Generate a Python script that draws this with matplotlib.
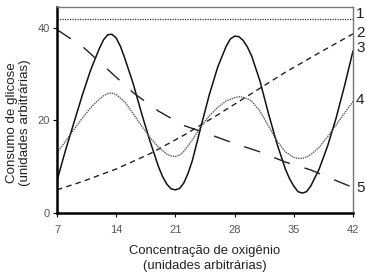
import matplotlib
matplotlib.use('Agg')
import matplotlib.pyplot as plt

plt.rcParams['font.family'] = ['Liberation Sans', 'DejaVu Sans']

# curve 3 (solid), denser near peaks and troughs
x3 = [7, 8, 9, 10, 11, 12, 12.5, 13, 13.5, 14, 14.5, 15, 16, 17, 18, 19, 19.5, 20,
      20.5, 21, 21.5, 22, 22.5, 23, 24, 25, 26, 27, 27.5, 28, 28.5, 29, 29.5, 30,
      31, 32, 33, 34, 34.5, 35, 35.5, 36, 36.5, 37, 38, 39, 40, 41, 42]
curve3 = [7, 13.5, 19.5, 25.5, 31, 35.5, 37.4, 38.5, 38.6, 37.8, 36, 33.5, 28, 21.5,
          15.5, 10, 7.8, 6.2, 5.2, 5, 5.3, 6.5, 8.6, 11.3, 18.5, 25.5, 31.5, 36, 37.6,
          38.2, 38.1, 37.3, 35.9, 34, 28.5, 21.5, 15, 9.5, 7.4, 5.8, 4.6, 4.3, 4.6,
          5.8, 9.5, 14.5, 20.5, 27.5, 35]

# curve 4 (dotted)
x4 = [7, 8, 9, 10, 11, 12, 12.5, 13, 13.5, 14, 15, 16, 17, 18, 19, 20, 20.5, 21,
      21.5, 22, 23, 24, 25, 26, 27, 28, 28.5, 29, 29.5, 30, 31, 32, 33, 34, 35, 35.5,
      36, 36.5, 37, 38, 39, 40, 41, 42]
curve4 = [13, 15.5, 18, 20.5, 22.8, 24.6, 25.3, 25.8, 25.9, 25.6, 24, 21.5, 18.8, 16.3,
          14.2, 12.7, 12.3, 12.2, 12.5, 13.3, 15.8, 18.6, 21, 22.8, 24.2, 24.9, 25.1,
          25, 24.7, 24.2, 22, 18.8, 15.6, 13.2, 12, 11.8, 11.8, 12.1, 12.6, 14.2, 16.5,
          19, 21.6, 24.1]

x2 = [7, 10, 14, 18, 22, 26, 30, 34, 38, 42]
curve2 = [5, 6.8, 9.5, 12.8, 16.8, 21.2, 25.8, 30.4, 34.6, 38.7]

x5 = [7, 10, 13, 16, 19, 22, 25, 28, 31, 34, 37, 40, 42]
curve5 = [39.6, 36, 31, 26, 22, 18.9, 17, 15, 13.2, 11, 9.3, 7, 5.5]

x1 = [7, 42]
curve1 = [42, 42]

labels = ['1', '2', '3', '4', '5']
label_y = [43, 38.9, 35.7, 24.3, 5.4]

fig = plt.figure(figsize=(3.67, 2.79), dpi=100)
ax = fig.add_axes([0.1553, 0.2366, 0.8066, 0.7384])

ax.plot(x1, curve1, color='#333333', lw=0.9, linestyle=(0, (1, 1)))
ax.plot(x2, curve2, color='#222222', lw=1.0, linestyle=(0, (4, 3)))
ax.plot(x3, curve3, color='#111111', lw=1.1)
ax.plot(x4, curve4, color='#555555', lw=1.0, linestyle=(0, (1, 0.7)))
ax.plot(x5, curve5, color='#222222', lw=1.0, linestyle=(0, (12, 11)))

ax.set_xlim(7, 42)
ax.set_ylim(0, 44.5)
ax.set_xticks([7, 14, 21, 28, 35, 42])
ax.set_yticks([0, 20, 40])
ax.tick_params(labelsize=8, labelcolor='#555555', length=3, width=0.8)
ax.tick_params(axis='x', pad=6)
ax.tick_params(axis='y', pad=2)

for side in ['left', 'bottom']:
    ax.spines[side].set_linewidth(1.8)
    ax.spines[side].set_color('black')
for side in ['top', 'right']:
    ax.spines[side].set_linewidth(1.0)
    ax.spines[side].set_color('#777777')

for lab, y in zip(labels, label_y):
    ax.text(1.01, y, lab, transform=ax.get_yaxis_transform(), fontsize=11,
            color='#222222', va='center', ha='left', clip_on=False)

ax.set_xlabel('Concentração de oxigênio\n(unidades arbitrárias)', fontsize=9.4,
              color='#222222', linespacing=1.35, labelpad=7)
ax.set_ylabel('Consumo de glicose\n(unidades arbitrárias)', fontsize=9.6,
              color='#222222', linespacing=1.1)
ax.yaxis.set_label_coords(-0.088, 0.44)

fig.savefig('out.png', dpi=100)
